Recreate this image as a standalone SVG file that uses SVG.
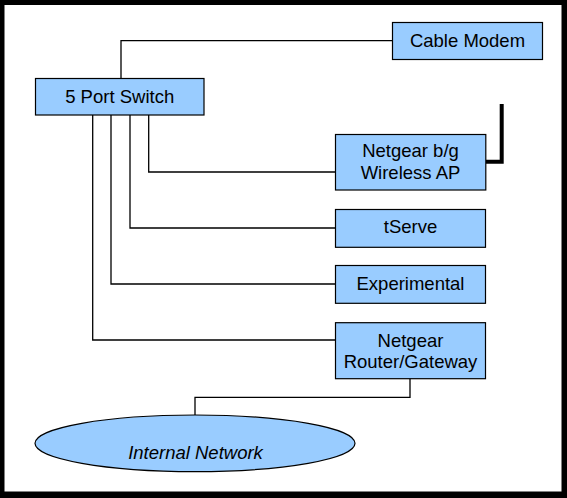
<svg xmlns="http://www.w3.org/2000/svg" width="567" height="498" viewBox="0 0 567 498">
<style>
.box{fill:#99ccff;stroke:#000;stroke-width:1.2}
.t{font-family:"Liberation Sans",Arial,sans-serif;font-size:18.5px;fill:#000;text-anchor:middle}
.it{font-style:italic}
.c{fill:none;stroke:#000;stroke-width:1.3}
</style>
<rect x="0" y="0" width="567" height="498" fill="#000"/>
<rect x="4.5" y="5" width="557" height="486.5" fill="#fff"/>
<g id="connectors">
<polyline class="c" points="121,78.5 121,40.7 392.5,40.7"/>
<polyline class="c" points="148.7,115 148.7,172 335.5,172"/>
<polyline class="c" points="130,115 130,228 335.5,228"/>
<polyline class="c" points="111,115 111,284 335.5,284"/>
<polyline class="c" points="92.7,115 92.7,340 335.5,340"/>
<polyline class="c" points="410,378.5 410,397.3 195,397.3 195,415"/>
<polyline fill="none" stroke="#000" stroke-width="4" stroke-linejoin="miter" points="486,161.7 501.7,161.7 501.7,104"/>
</g>
<g id="cable-modem">
<rect class="box" x="392.5" y="22.5" width="150" height="37"/>
<text class="t" x="467.5" y="47">Cable Modem</text>
</g>
<g id="switch">
<rect class="box" x="35.5" y="78.5" width="168.5" height="36.5"/>
<text class="t" x="119.7" y="103.3">5 Port Switch</text>
</g>
<g id="wireless-ap">
<rect class="box" x="335.5" y="134.5" width="150.3" height="55.5"/>
<text class="t" x="410.5" y="156.7">Netgear b/g</text>
<text class="t" x="410.5" y="179.3">Wireless AP</text>
</g>
<g id="tserve">
<rect class="box" x="335.5" y="209.5" width="150" height="37.8"/>
<text class="t" x="410.5" y="233.3">tServe</text>
</g>
<g id="experimental">
<rect class="box" x="335.5" y="265.5" width="150" height="37.8"/>
<text class="t" x="410.5" y="290">Experimental</text>
</g>
<g id="router">
<rect class="box" x="335.5" y="322.7" width="150" height="56"/>
<text class="t" x="410.5" y="346.7">Netgear</text>
<text class="t" x="410.5" y="368.3">Router/Gateway</text>
</g>
<g id="internal-network">
<ellipse class="box" cx="195" cy="443.3" rx="160" ry="28.3"/>
<text class="t it" x="195.5" y="459">Internal Network</text>
</g>
</svg>
